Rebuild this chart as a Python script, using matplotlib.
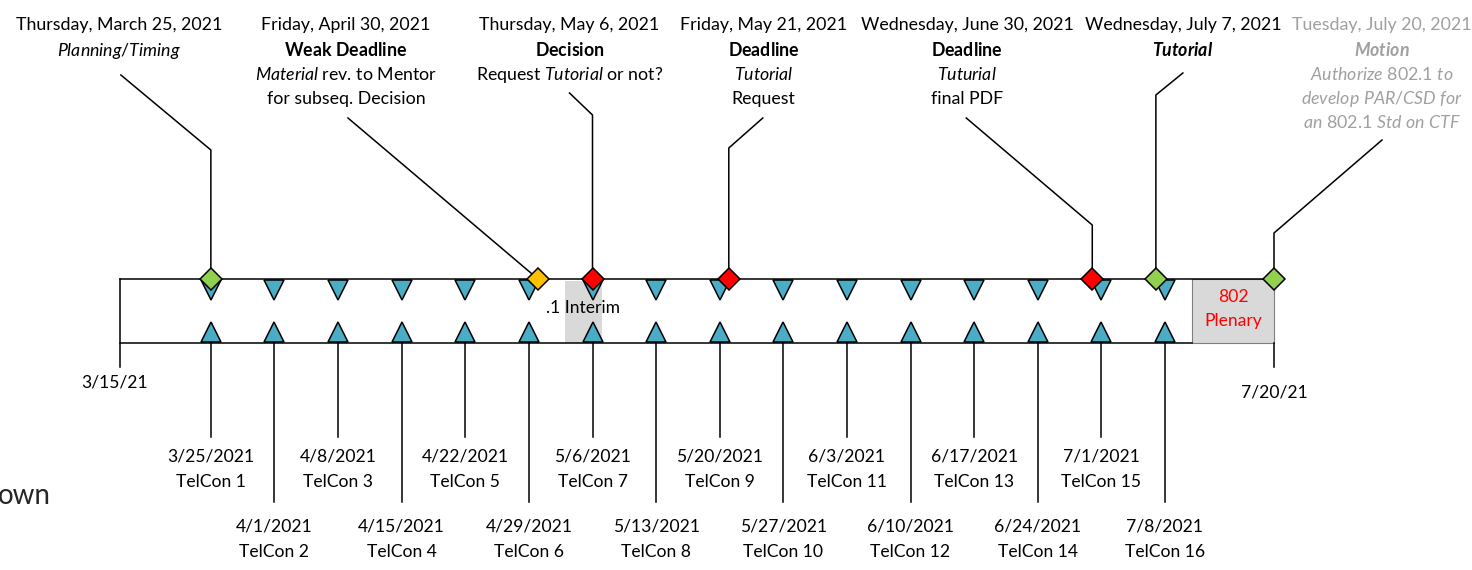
import datetime as dt
import matplotlib.pyplot as plt
import matplotlib.dates as mdates
from matplotlib.patches import Rectangle

plt.rcParams['font.family'] = ['Lato', 'DejaVu Sans']
plt.rcParams['mathtext.fontset'] = 'custom'
plt.rcParams['mathtext.rm'] = 'Lato'
plt.rcParams['mathtext.it'] = 'Lato:italic'
plt.rcParams['mathtext.bf'] = 'Lato:bold'
plt.rcParams['mathtext.bfit'] = 'Lato:italic:bold'

# --- data -------------------------------------------------------------
span_dates = ['2021-03-15', '2021-07-20']
span_labels = ['3/15/21', '7/20/21']

telcon_dates = ['2021-03-25', '2021-04-01', '2021-04-08', '2021-04-15',
                '2021-04-22', '2021-04-29', '2021-05-06', '2021-05-13',
                '2021-05-20', '2021-05-27', '2021-06-03', '2021-06-10',
                '2021-06-17', '2021-06-24', '2021-07-01', '2021-07-08']
telcon_date_labels = ['3/25/2021', '4/1/2021', '4/8/2021', '4/15/2021',
                      '4/22/2021', '4/29/2021', '5/6/2021', '5/13/2021',
                      '5/20/2021', '5/27/2021', '6/3/2021', '6/10/2021',
                      '6/17/2021', '6/24/2021', '7/1/2021', '7/8/2021']
telcon_names = ['TelCon 1', 'TelCon 2', 'TelCon 3', 'TelCon 4', 'TelCon 5',
                'TelCon 6', 'TelCon 7', 'TelCon 8', 'TelCon 9', 'TelCon 10',
                'TelCon 11', 'TelCon 12', 'TelCon 13', 'TelCon 14',
                'TelCon 15', 'TelCon 16']

milestone_dates = ['2021-03-25', '2021-04-30', '2021-05-06', '2021-05-21',
                   '2021-06-30', '2021-07-07', '2021-07-20']
milestone_kinds = ['start', 'weak', 'deadline', 'deadline', 'deadline',
                   'start', 'start']
milestone_titles = ['Thursday, March 25, 2021', 'Friday, April 30, 2021',
                    'Thursday, May 6, 2021', 'Friday, May 21, 2021',
                    'Wednesday, June 30, 2021', 'Wednesday, July 7, 2021',
                    'Tuesday, July 20, 2021']
milestone_notes = [
    [r'$\mathit{Planning/Timing}$'],
    [r'$\mathbf{Weak\ Deadline}$', r'$\mathit{Material}$ rev. to Mentor',
     'for subseq. Decision'],
    [r'$\mathbf{Decision}$', r'Request $\mathit{Tutorial}$ or not?'],
    [r'$\mathbf{Deadline}$', r'$\mathit{Tutorial}$', 'Request'],
    [r'$\mathbf{Deadline}$', r'$\mathit{Tuturial}$', 'final PDF'],
    [r'$\mathbfit{Tutorial}$'],
    [r'$\mathbfit{Motion}$', r'$\mathit{Authorize\ 802.1\ to}$',
     r'$\mathit{develop\ PAR/CSD\ for}$', r'$\mathit{an\ 802.1\ Std\ on\ CTF}$'],
]

meetings = [('2021-05-03', '2021-05-07', '.1 Interim'),
            ('2021-07-11', '2021-07-20', '802\nPlenary')]

# --- layout (pixels) --------------------------------------------------
W, H = 1472, 570
X_START, X_END = 120, 1274
Y_UP, Y_LOW = 279, 343
FS_TOP, FS = 12.8, 12.6
kind_color = {'start': '#92D050', 'weak': '#FFC000', 'deadline': '#FF0000'}
text_dx = [-92, -192, -23, 35, -125, 27, 108]
lead_start = [(-90, 75), (-190, 118), (-23, 93), (34, 118), (-126, 118),
              (27, 73), (108, 140)]
lead_knee = [150, 279, 115, 148, 225, 95, 233]
top_rows = [30, 56, 80, 104, 128]
title_colors = ['black'] * 6 + ['#A0A0A0']


def xd(s):
    return mdates.date2num(dt.date.fromisoformat(s))


x0, x1 = xd(span_dates[0]), xd(span_dates[1])
ppd = (X_END - X_START) / (x1 - x0)   # pixels per day

fig = plt.figure(figsize=(W / 100, H / 100), dpi=100)
ax = fig.add_axes([0, 0, 1, 1])
ax.set_xlim(x0 - X_START / ppd, x0 + (W - X_START) / ppd)
ax.set_ylim(H, 0)
ax.axis('off')

lw = 1.1
# meeting boxes
m0, m1, mtxt = meetings[0]
ax.add_patch(Rectangle((xd(m0), Y_UP + 2), xd(m1) - xd(m0), Y_LOW - Y_UP - 2,
                       facecolor='#D9D9D9', edgecolor='none', zorder=1))
ax.text((xd(m0) + xd(m1)) / 2, 313, mtxt, ha='center', va='baseline',
        fontsize=FS, zorder=5)
p0, p1, ptxt = meetings[1]
ax.add_patch(Rectangle((xd(p0), Y_UP), xd(p1) - xd(p0), Y_LOW - Y_UP,
                       facecolor='#D9D9D9', edgecolor='#808080', lw=0.8,
                       zorder=1))
for k, line in enumerate(ptxt.split('\n')):
    ax.text((xd(p0) + xd(p1)) / 2, 302 + 24 * k, line, ha='center',
            va='baseline', fontsize=FS, color='#FF0000', zorder=5)

# timeline frame
ax.plot([x0, x1], [Y_UP, Y_UP], color='black', lw=lw, zorder=2)
ax.plot([x0, xd(p0)], [Y_LOW, Y_LOW], color='black', lw=lw, zorder=2)
ax.plot([x0, x0], [Y_UP, 367], color='black', lw=lw, zorder=2)
ax.plot([x1, x1], [Y_LOW, 367], color='black', lw=lw, zorder=2)
ax.text(x0 - 5 / ppd, 387, span_labels[0], ha='center', va='baseline',
        fontsize=FS)
ax.text(x1, 398, span_labels[1], ha='center', va='baseline', fontsize=FS)

# telcons
tx = [xd(d) for d in telcon_dates]
for i, x in enumerate(tx):
    long = i % 2 == 1
    ax.plot([x, x], [Y_LOW, 502 if long else 437], color='black', lw=lw,
            zorder=2)
    base = 532 if long else 462
    ax.text(x, base, telcon_date_labels[i], ha='center', va='baseline',
            fontsize=FS)
    ax.text(x, base + 25, telcon_names[i], ha='center', va='baseline',
            fontsize=FS)
ax.plot(tx, [289.5] * len(tx), 'v', ms=14, mfc='#4BACC6', mec='black',
        mew=1.1, zorder=3)
ax.plot(tx, [332] * len(tx), '^', ms=14, mfc='#4BACC6', mec='black',
        mew=1.1, zorder=3)

# milestones
for i, d in enumerate(milestone_dates):
    x = xd(d)
    sx, sy = lead_start[i]
    ax.plot([x + sx / ppd, x, x], [sy, lead_knee[i], Y_UP], color='black',
            lw=lw, zorder=2)
    ax.plot(x, Y_UP, 'D', ms=11, mfc=kind_color[milestone_kinds[i]],
            mec='black', mew=1.1, zorder=4)
    tcx = x + text_dx[i] / ppd
    lines = [milestone_titles[i]] + milestone_notes[i]
    for j, line in enumerate(lines):
        ax.text(tcx, top_rows[j], line, ha='center', va='baseline',
                fontsize=FS_TOP, color=title_colors[i])

# cut-off slide text at the left edge
ax.text(x0 - 122 / ppd, 504, 'own', ha='left', va='baseline', fontsize=20,
        color='#262626')

fig.savefig('out.png', dpi=100)
